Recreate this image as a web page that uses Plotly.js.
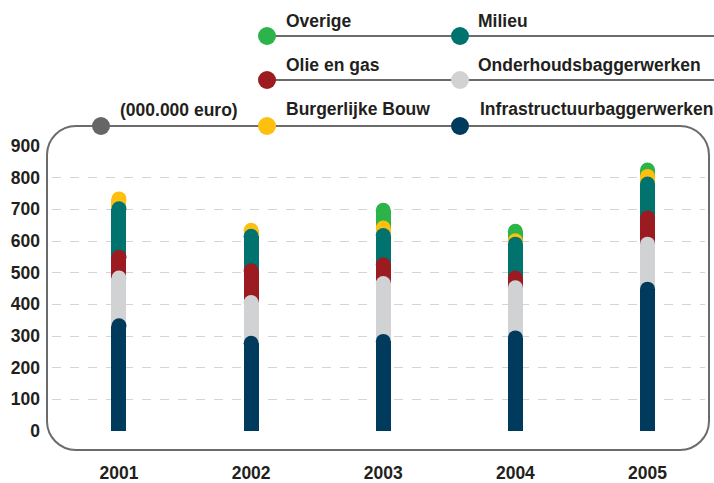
<!DOCTYPE html>
<html>
<head>
<meta charset="utf-8">
<script src="https://cdn.plot.ly/plotly-3.0.1.min.js"></script>
<style>
html,body{margin:0;padding:0;background:#fff;}
#chart{width:714px;height:483px;}
</style>
</head>
<body>
<div id="chart"></div>
<script>
// ---- data (000.000 euro) ----
var years = [2001, 2002, 2003, 2004, 2005];
var seriesNames = ["Infrastructuurbaggerwerken", "Onderhoudsbaggerwerken", "Olie en gas", "Milieu", "Burgerlijke Bouw", "Overige"];
var infra   = [332, 277, 283, 294, 448];
var onder   = [151, 129, 183, 158, 142];
var olie    = [66, 100, 59, 31, 83];
var milieu  = [153, 109, 92, 107, 107];
var burger  = [31, 19, 24, 11, 24];
var overige = [0, 0, 56, 30, 20];
var yTicks = [0, 100, 200, 300, 400, 500, 600, 700, 800, 900];
var unitLabel = "(000.000 euro)";

var colors = ["#003a5d", "#d1d2d4", "#9b1b20", "#00736f", "#fdc00f", "#2cb34a"];
var seriesData = [infra, onder, olie, milieu, burger, overige];

// ---- geometry helpers (pixel -> paper) ----
var W = 714, H = 483;
var mL = 52, mR = 9, mT = 146, mB = 52;
var pw = W - mL - mR, ph = H - mT - mB;
function X(px){ return (px - mL) / pw; }
function Y(py){ return (H - mB - py) / ph; }

var barW = 0.1135;
var capPx = 15;

var traces = [];
// stacked bars
for (var s = 0; s < seriesData.length; s++) {
  traces.push({
    type: "bar", x: years, y: seriesData[s], width: barW,
    marker: {color: colors[s], line: {width: 0}},
    hoverinfo: "skip", showlegend: false, name: seriesNames[s]
  });
}
// rounded caps: drawn top series first so lower caps lie over upper segments
var cum = [];
var run = years.map(function(){ return 0; });
for (var s = 0; s < seriesData.length; s++) {
  cum.push(seriesData[s].map(function(v, i){ run[i] += v; return v > 0 ? run[i] : null; }));
}
for (var s = seriesData.length - 1; s >= 0; s--) {
  traces.push({
    type: "scatter", mode: "markers", x: years, y: cum[s], cliponaxis: false,
    marker: {color: colors[s], size: capPx, line: {width: 0}},
    hoverinfo: "skip", showlegend: false
  });
}

var lineCol = "#6b6b6b";
var txtCol = "#231f20";
var fnt = {family: "Liberation Sans, Arial, sans-serif", size: 17.5, color: txtCol, weight: "bold"};

// frame (rounded rectangle) path
var fl = 47, fr = 709, ft = 126, fb = 450, r = 29, k = 0.5523 * r;
function P(px, py){ return X(px).toFixed(5) + "," + Y(py).toFixed(5); }
var framePath =
  "M" + P(fl + r, ft) + " L" + P(fr - r, ft) +
  " C" + P(fr - r + k, ft) + " " + P(fr, ft + r - k) + " " + P(fr, ft + r) +
  " L" + P(fr, fb - r) +
  " C" + P(fr, fb - r + k) + " " + P(fr - r + k, fb) + " " + P(fr - r, fb) +
  " L" + P(fl + r, fb) +
  " C" + P(fl + r - k, fb) + " " + P(fl, fb - r + k) + " " + P(fl, fb - r) +
  " L" + P(fl, ft + r) +
  " C" + P(fl, ft + r - k) + " " + P(fl + r - k, ft) + " " + P(fl + r, ft) + " Z";

var shapes = [
  {type: "path", xref: "paper", yref: "paper", path: framePath, line: {color: lineCol, width: 2}, fillcolor: "rgba(0,0,0,0)"},
  {type: "line", xref: "paper", yref: "paper", x0: X(267), x1: X(714), y0: Y(36), y1: Y(36), line: {color: lineCol, width: 2}},
  {type: "line", xref: "paper", yref: "paper", x0: X(267), x1: X(714), y0: Y(80), y1: Y(80), line: {color: lineCol, width: 2}}
];
function dot(cx, cy, col){
  var rd = 9;
  return {type: "circle", xref: "paper", yref: "paper", x0: X(cx - rd), x1: X(cx + rd), y0: Y(cy + rd), y1: Y(cy - rd),
          fillcolor: col, line: {width: 0}};
}
// legend layout: [series index, dot x, dot y, text x, text y]
var legendItems = [
  [5, 267, 36, 284, 21], [3, 460, 36, 476, 21],
  [2, 267, 80, 284, 65], [1, 460, 80, 476, 65],
  [4, 267, 126, 284, 109], [0, 460, 126, 478, 109]
];
var annotations = [];
legendItems.forEach(function(it){
  shapes.push(dot(it[1], it[2], colors[it[0]]));
  annotations.push({xref: "paper", yref: "paper", x: X(it[3]), y: Y(it[4]), xanchor: "left", yanchor: "middle",
    text: seriesNames[it[0]], showarrow: false, font: fnt});
});
shapes.push(dot(101, 126, "#666666"));
annotations.push({xref: "paper", yref: "paper", x: X(118), y: Y(110), xanchor: "left", yanchor: "middle",
  text: unitLabel, showarrow: false, font: fnt});

var layout = {
  width: W, height: H,
  margin: {l: mL, r: mR, t: mT, b: mB, pad: 0},
  paper_bgcolor: "#ffffff", plot_bgcolor: "rgba(0,0,0,0)",
  barmode: "stack",
  showlegend: false,
  xaxis: {type: "linear", range: [2000.493, 2005.435], tickvals: years, ticktext: years.map(String),
    showgrid: false, zeroline: false, showline: false, ticks: "", tickfont: fnt, ticklabelstandoff: 29, fixedrange: true},
  yaxis: {range: [0, 900], tickvals: yTicks, showgrid: true, gridcolor: "#d4d4d4", griddash: "dash", gridwidth: 1,
    zeroline: false, showline: false, ticks: "", tickfont: fnt, ticklabelstandoff: 11, fixedrange: true},
  shapes: shapes,
  annotations: annotations
};

Plotly.newPlot("chart", traces, layout, {staticPlot: true, displayModeBar: false});
</script>
</body>
</html>
